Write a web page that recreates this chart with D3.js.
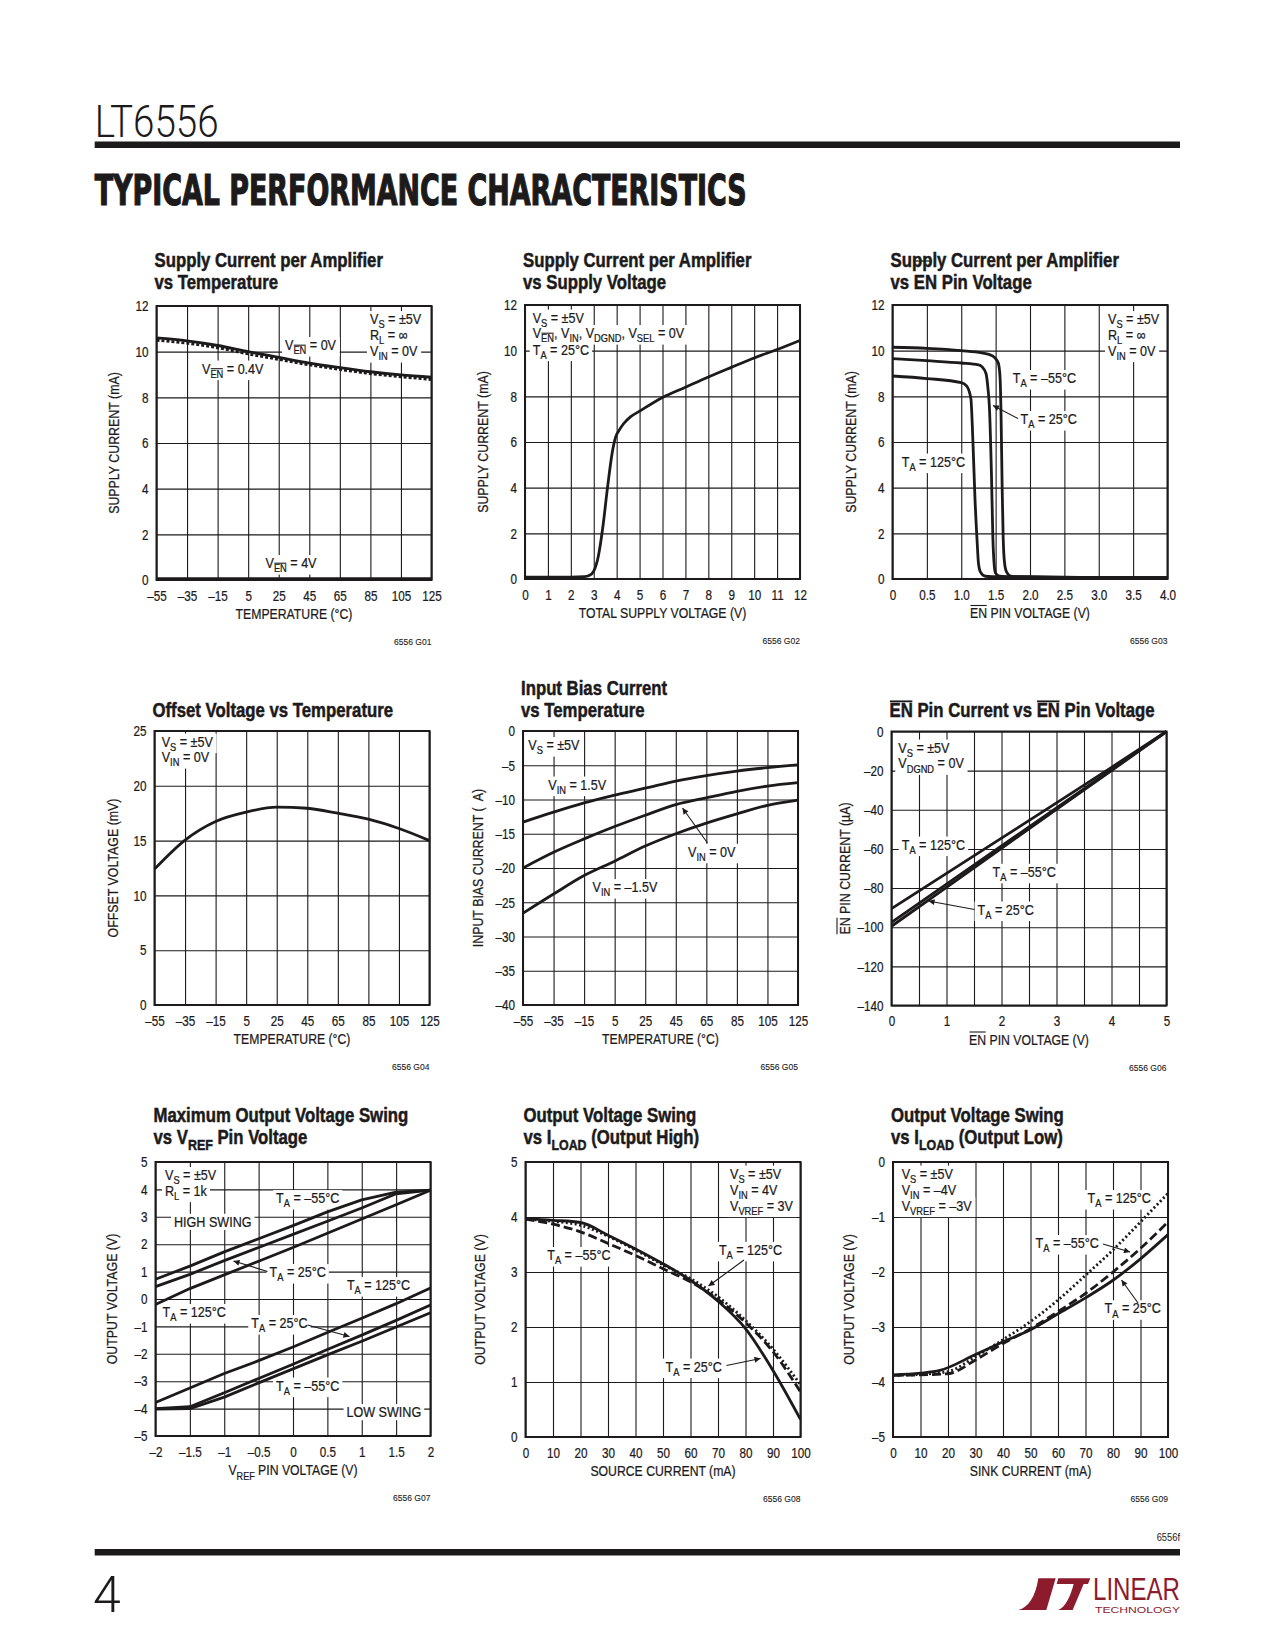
<!DOCTYPE html>
<html><head><meta charset="utf-8">
<script src="https://cdn.jsdelivr.net/npm/d3@7"></script>
<style>body{margin:0;background:#fff}svg{display:block}text{white-space:pre}
.p text{stroke:#1c1a1b;stroke-width:0.25px}</style>
</head><body>
<script>
// ---------------- DATA ----------------
const tempC = [-55, -35, -15, 5, 25, 45, 65, 85, 105, 125];
// G01 supply current vs temperature (mA)
const g01En0V  = [10.6, 10.47, 10.27, 10.0, 9.75, 9.5, 9.3, 9.12, 8.98, 8.88];
const g01En04V = [10.5, 10.37, 10.17, 9.9, 9.66, 9.42, 9.22, 9.04, 8.9, 8.78];
const g01En4V  = [0.05, 0.05, 0.05, 0.05, 0.05, 0.05, 0.05, 0.05, 0.05, 0.05];
// G02 supply current vs total supply voltage
const g02V = [0, 1, 2, 2.6, 2.8, 3.0, 3.2, 3.4, 3.6, 3.8, 3.95, 4.1, 4.3, 4.6, 5, 6, 7, 8, 9, 10, 11, 12];
const g02I = [0.08, 0.08, 0.08, 0.1, 0.15, 0.35, 1.0, 2.3, 4.0, 5.5, 6.2, 6.5, 6.8, 7.1, 7.35, 7.95, 8.4, 8.85, 9.27, 9.68, 10.05, 10.45];
// G03 supply current vs EN pin voltage
const g03VM55 = [0, 0.5, 1.0, 1.3, 1.45, 1.5, 1.54, 1.565, 1.58, 1.595, 1.61, 1.63, 1.66, 1.72, 1.85, 2.5, 3.0, 4.0];
const g03IM55 = [10.15, 10.1, 10.0, 9.9, 9.78, 9.65, 9.45, 8.8, 7.0, 4.0, 1.8, 0.7, 0.3, 0.13, 0.1, 0.08, 0.07, 0.06];
const g03V25 = [0, 0.5, 1.0, 1.25, 1.3, 1.36, 1.39, 1.41, 1.44, 1.46, 1.48, 1.5, 1.56, 1.7, 2.5, 4.0];
const g03I25 = [9.65, 9.56, 9.46, 9.38, 9.3, 9.0, 8.3, 7.5, 4.5, 1.8, 0.6, 0.25, 0.12, 0.09, 0.07, 0.06];
const g03V125 = [0, 0.5, 1.0, 1.08, 1.14, 1.17, 1.2, 1.23, 1.25, 1.28, 1.35, 1.45, 2.5, 4.0];
const g03I125 = [8.89, 8.78, 8.6, 8.45, 7.9, 6.0, 3.5, 1.7, 0.7, 0.3, 0.12, 0.1, 0.07, 0.06];
// G04 offset voltage vs temperature (mV)
const g04Vos = [12.4, 15.05, 16.75, 17.6, 18.05, 17.95, 17.5, 16.95, 16.1, 15.0];
// G05 input bias current vs temperature
const g05Vin15  = [-13.3, -11.85, -10.5, -9.35, -8.35, -7.3, -6.5, -5.85, -5.35, -4.95];
const g05Vin0   = [-20.0, -17.7, -15.75, -13.95, -12.3, -10.75, -9.75, -8.8, -8.05, -7.55];
const g05VinM15 = [-26.6, -23.8, -21.1, -19.0, -16.8, -15.0, -13.45, -12.1, -10.85, -10.1];
// G06 EN pin current vs EN pin voltage (uA)
const g06V = [0, 1, 2, 3, 4, 5];
const g06T125 = [-90.5, -72.5, -54.5, -36.5, -18.3, 0];
const g06TM55 = [-97.5, -78, -58.5, -39, -19.5, 0];
const g06T25  = [-99.5, -79.6, -59.7, -39.8, -20, 0];
// G07 max output swing vs VREF
const g07Vref = [-2, -1.5, -1, -0.5, 0, 0.5, 1, 1.5, 2];
const g07HiM55 = [0.72, 1.2, 1.72, 2.2, 2.68, 3.18, 3.62, 3.9, 3.97];
const g07Hi25  = [0.45, 0.9, 1.4, 1.88, 2.36, 2.84, 3.32, 3.84, 3.97];
const g07Hi125 = [-0.2, 0.38, 0.88, 1.38, 1.88, 2.4, 2.92, 3.44, 3.97];
const g07Lo125 = [-3.78, -3.25, -2.72, -2.25, -1.75, -1.22, -0.7, -0.17, 0.4];
const g07Lo25  = [-4.0, -3.93, -3.42, -2.9, -2.38, -1.84, -1.32, -0.78, -0.22];
const g07LoM55 = [-4.02, -4.0, -3.58, -3.06, -2.55, -2.04, -1.54, -1.02, -0.5];
// G08 output high vs source current
const loadmA = [0, 10, 20, 30, 40, 50, 60, 70, 80, 90, 100];
const g08T25  = [3.97, 3.94, 3.9, 3.67, 3.42, 3.15, 2.85, 2.47, 1.97, 1.21, 0.32];
const g08TM55 = [3.96, 3.87, 3.73, 3.52, 3.3, 3.06, 2.82, 2.5, 2.08, 1.55, 0.82];
const g08T125 = [3.96, 3.92, 3.85, 3.65, 3.4, 3.13, 2.88, 2.55, 2.12, 1.6, 0.95];
// G09 output low vs sink current
const g09X25 = [0, 10, 17, 30, 40, 50, 60, 70, 80, 90, 100];
const g09T25  = [-3.87, -3.84, -3.79, -3.5, -3.27, -3.05, -2.76, -2.47, -2.15, -1.76, -1.32];
const g09TM55 = [-3.88, -3.87, -3.85, -3.6, -3.3, -3.03, -2.72, -2.39, -2.0, -1.57, -1.09];
const g09T125 = [-3.88, -3.86, -3.81, -3.54, -3.23, -2.9, -2.51, -2.06, -1.6, -1.09, -0.57];

// tick values
const tempTicks = tempC;
const mA12Ticks = [0, 2, 4, 6, 8, 10, 12];
const v12Ticks = d3.range(0, 13, 1);
const en4Ticks = [0, 0.5, 1.0, 1.5, 2.0, 2.5, 3.0, 3.5, 4.0];
const vos25Ticks = [0, 5, 10, 15, 20, 25];
const ib40Ticks = [-40, -35, -30, -25, -20, -15, -10, -5, 0];
const en5Grid = [0, 0.5, 1, 1.5, 2, 2.5, 3, 3.5, 4, 4.5, 5];
const en5Labels = [0, 1, 2, 3, 4, 5];
const uA140Ticks = [-140, -120, -100, -80, -60, -40, -20, 0];
const vrefTicks = [-2, -1.5, -1, -0.5, 0, 0.5, 1, 1.5, 2];
const out5Ticks = [-5, -4, -3, -2, -1, 0, 1, 2, 3, 4, 5];
const loadTicks = loadmA;
const hi5Ticks = [0, 1, 2, 3, 4, 5];
const lo5Ticks = [-5, -4, -3, -2, -1, 0];

// ---------------- DRAWING ----------------
const W = 1275, H = 1650;
const INK = '#1c1a1b';
const FONT = "'Liberation Sans', Arial, sans-serif";
const CAP = 0.716;
const svg = d3.select('body').append('svg').attr('width', W).attr('height', H)
  .attr('font-family', FONT).attr('fill', INK);
svg.append('rect').attr('width', W).attr('height', H).attr('fill', '#fff');
const defs = svg.append('defs');
defs.append('marker').attr('id', 'arr').attr('viewBox', '0 0 10 10').attr('refX', 10).attr('refY', 5)
  .attr('markerWidth', 9).attr('markerHeight', 6).attr('markerUnits', 'userSpaceOnUse').attr('orient', 'auto')
  .append('path').attr('d', 'M0,0L10,5L0,10Z').attr('fill', INK);

const dash = s => s < 0 ? '–' + Math.abs(s) : String(s);

// text with _{sub}, ~{overline}, _{~overlined sub}; condensed horizontally by sx
function label(parent, str, x, y, fs, o = {}) {
  const sx = o.sx || 0.86;
  const g = parent.append('g').attr('transform', `translate(${x},${y})${o.rot ? ' rotate(-90)' : ''} scale(${sx},1)`);
  const t = g.append('text').attr('font-size', fs).attr('text-anchor', o.anchor || 'start')
    .attr('font-weight', o.bold ? 'bold' : null);
  if (o.sw != null) t.style('stroke-width', o.sw + 'px');
  const parts = str.split(/(_\{[^}]*\}|~\{[^}]*\})/).filter(s => s);
  let down = false, idx = 0;
  const overs = [], sh = fs * 0.3;
  parts.forEach(p => {
    let s = p, sub = false, over = false;
    if (p.startsWith('_{')) { s = p.slice(2, -1); sub = true; }
    else if (p.startsWith('~{')) { s = p.slice(2, -1); over = true; }
    if (s.startsWith('~')) { s = s.slice(1); over = true; }
    const ts = t.append('tspan').text(s);
    if (sub) { ts.attr('font-size', fs * 0.74); if (!down) ts.attr('dy', sh); down = true; }
    else if (down) { ts.attr('dy', -sh); down = false; }
    if (over) overs.push([idx, idx + s.length - 1, sub ? fs * 0.74 : fs]);
    idx += s.length;
  });
  overs.forEach(([a, b, f]) => {
    const p0 = t.node().getStartPositionOfChar(a), p1 = t.node().getEndPositionOfChar(b);
    const yy = p0.y - f * CAP - 1.4;
    g.append('line').attr('x1', p0.x + 0.5).attr('x2', p1.x - 0.5).attr('y1', yy).attr('y2', yy)
      .attr('stroke', INK).attr('stroke-width', o.bold ? 1.8 : 1.1);
  });
  const bb = t.node().getBBox();
  return { g, box: { x: x + bb.x * sx, y: y + bb.y, w: bb.width * sx, h: bb.height } };
}

function squeeze(axisG, sx) {
  axisG.selectAll('text').each(function () {
    const t = d3.select(this);
    const x = +t.attr('x') || 0, y = +t.attr('y') || 0;
    t.attr('x', 0).attr('y', 0).attr('transform', `translate(${x},${y}) scale(${sx},1)`);
  });
}

function panel(c) {
  const w = c.w || 275, h = c.h || 274;
  const x = d3.scaleLinear().domain(c.xd).range([c.left, c.left + w]);
  const y = d3.scaleLinear().domain(c.yd).range([c.top + h, c.top]);
  const g = svg.append('g').attr('class', 'p');
  const gridG = g.append('g'), bgG = g.append('g'), lineG = g.append('g'), frameG = g.append('g'), txtG = g.append('g');

  const gx = gridG.append('g').attr('transform', `translate(0,${c.top + h})`)
    .call(d3.axisBottom(x).tickValues(c.xg).tickSize(-h).tickFormat(''));
  const gy = gridG.append('g').attr('transform', `translate(${c.left},0)`)
    .call(d3.axisLeft(y).tickValues(c.yg).tickSize(-w).tickFormat(''));
  [gx, gy].forEach(a => { a.select('.domain').remove(); a.selectAll('line').attr('stroke', INK).attr('stroke-width', 1.1); });

  const xa = txtG.append('g').attr('transform', `translate(0,${c.top + h})`)
    .call(d3.axisBottom(x).tickValues(c.xl || c.xg).tickSize(0).tickPadding(10.3).tickFormat(c.xf || dash));
  const ya = txtG.append('g').attr('transform', `translate(${c.left},0)`)
    .call(d3.axisLeft(y).tickValues(c.yl || c.yg).tickSize(0).tickPadding(8).tickFormat(c.yf || dash));
  [xa, ya].forEach(a => {
    a.select('.domain').remove();
    a.attr('font-family', FONT).attr('font-size', 14.8).attr('color', INK);
    squeeze(a, 0.79);
  });

  c.series.forEach(s => {
    lineG.append('path').datum(d3.zip(s.x, s.y))
      .attr('d', d3.line().x(d => x(d[0])).y(d => y(d[1])).curve(s.curve || d3.curveMonotoneX))
      .attr('fill', 'none').attr('stroke', INK).attr('stroke-width', s.sw || 2.8)
      .attr('stroke-dasharray', s.dash || null).attr('stroke-linejoin', 'round');
  });
  frameG.append('rect').attr('x', c.left).attr('y', c.top).attr('width', w).attr('height', h)
    .attr('fill', 'none').attr('stroke', INK).attr('stroke-width', 2);

  (c.notes || []).forEach(a => {
    const L = label(txtG, a[0], c.left + a[1], c.top + a[2], 14.8, { sx: 0.85 });
    const b = L.box;
    bgG.append('rect').attr('x', b.x - 3).attr('y', b.y).attr('width', b.w + 6).attr('height', b.h).attr('fill', '#fff');
  });
  (c.arrows || []).forEach(a => {
    txtG.append('line').attr('x1', c.left + a[0]).attr('y1', c.top + a[1]).attr('x2', c.left + a[2]).attr('y2', c.top + a[3])
      .attr('stroke', INK).attr('stroke-width', 1.1).attr('marker-end', 'url(#arr)');
  });
  c.title.forEach((s, i) => label(txtG, s, c.left - 2, c.tb[i], 19.5, { bold: true, sx: 0.86, sw: 0.5 }));
  label(txtG, c.xt, c.left + w / 2, c.top + h + 39, 15.5, { anchor: 'middle', sx: 0.79 });
  label(txtG, c.yt, c.left - c.yo, c.top + h / 2, 15.5, { anchor: 'middle', sx: 0.8, rot: true });
  label(txtG, c.fig, c.left + w, c.top + h + 65, 9.5, { anchor: 'end', sx: 0.9, sw: 0.1 });
  return { x, y, txtG };
}

// Row 1
panel({ left: 156.5, top: 306, xd: [-55, 125], yd: [0, 12], xg: tempTicks, yg: mA12Ticks,
  title: ['Supply Current per Amplifier', 'vs Temperature'], tb: [266.7, 289.3],
  xt: 'TEMPERATURE (°C)', yt: 'SUPPLY CURRENT (mA)', yo: 38, fig: '6556 G01',
  series: [{ x: tempC, y: g01En0V }, { x: tempC, y: g01En04V, dash: '3,2' }, { x: tempC, y: g01En4V, sw: 3 }],
  notes: [['V_{S} = ±5V', 213.5, 18], ['R_{L} = ∞', 213.5, 33.5], ['V_{IN} = 0V', 213.5, 50],
    ['V_{~EN} = 0V', 128.5, 44], ['V_{~EN} = 0.4V', 45.5, 67.5], ['V_{~EN} = 4V', 109, 262]] });

panel({ left: 525, top: 305, xd: [0, 12], yd: [0, 12], xg: v12Ticks, yg: mA12Ticks,
  title: ['Supply Current per Amplifier', 'vs Supply Voltage'], tb: [266.7, 289.3],
  xt: 'TOTAL SUPPLY VOLTAGE (V)', yt: 'SUPPLY CURRENT (mA)', yo: 37, fig: '6556 G02',
  series: [{ x: g02V, y: g02I }],
  notes: [['V_{S} = ±5V', 7.7, 17.5], ['V_{~EN}, V_{IN}, V_{DGND}, V_{SEL} = 0V', 7.7, 33], ['T_{A} = 25°C', 7.7, 49.5]] });

const p3 = panel({ left: 892.5, top: 305, xd: [0, 4], yd: [0, 12], xg: en4Ticks, yg: mA12Ticks,
  xf: d => d === 0 ? '0' : d.toFixed(1),
  title: ['Supply Current per Amplifier', 'vs EN Pin Voltage'], tb: [266.7, 289.3],
  xt: '~{EN} PIN VOLTAGE (V)', yt: 'SUPPLY CURRENT (mA)', yo: 36.5, fig: '6556 G03',
  series: [{ x: g03VM55, y: g03IM55 }, { x: g03V25, y: g03I25 }, { x: g03V125, y: g03I125 }],
  notes: [['V_{S} = ±5V', 215.5, 19], ['R_{L} = ∞', 215.5, 34.5], ['V_{IN} = 0V', 215.5, 50.5],
    ['T_{A} = –55°C', 120.2, 78], ['T_{A} = 25°C', 128, 119], ['T_{A} = 125°C', 9.2, 161.5]],
  arrows: [[125.5, 113.5, 100.5, 100.5]] });
// stray overline seen in the reference title
p3.txtG.append('line').attr('x1', 913).attr('x2', 932).attr('y1', 261).attr('y2', 261).attr('stroke', INK).attr('stroke-width', 1.2);

// Row 2
panel({ left: 154.5, top: 731, xd: [-55, 125], yd: [0, 25], xg: tempTicks, yg: vos25Ticks,
  title: ['Offset Voltage vs Temperature'], tb: [716.7],
  xt: 'TEMPERATURE (°C)', yt: 'OFFSET VOLTAGE (mV)', yo: 37, fig: '6556 G04',
  series: [{ x: tempC, y: g04Vos }],
  notes: [['V_{S} = ±5V', 7.2, 15.5], ['V_{IN} = 0V', 7.2, 31]] });

panel({ left: 523, top: 731, xd: [-55, 125], yd: [-40, 0], xg: tempTicks, yg: ib40Ticks,
  title: ['Input Bias Current', 'vs Temperature'], tb: [695, 716.7],
  xt: 'TEMPERATURE (°C)', yt: 'INPUT BIAS CURRENT (  A)', yo: 40, fig: '6556 G05',
  series: [{ x: tempC, y: g05Vin15 }, { x: tempC, y: g05Vin0 }, { x: tempC, y: g05VinM15 }],
  notes: [['V_{S} = ±5V', 5.3, 19], ['V_{IN} = 1.5V', 25.3, 58.5], ['V_{IN} = 0V', 165, 125.7], ['V_{IN} = –1.5V', 69.5, 161]],
  arrows: [[184.5, 112, 159.5, 77]] });

panel({ left: 891.5, top: 731.5, xd: [0, 5], yd: [-140, 0], xg: en5Grid, xl: en5Labels, yg: uA140Ticks,
  title: ['~{EN} Pin Current vs ~{EN} Pin Voltage'], tb: [716.7],
  xt: '~{EN} PIN VOLTAGE (V)', yt: '~{EN} PIN CURRENT (µA)', yo: 42, fig: '6556 G06',
  series: [{ x: g06V, y: g06T125, curve: d3.curveLinear }, { x: g06V, y: g06TM55, curve: d3.curveLinear }, { x: g06V, y: g06T25, curve: d3.curveLinear }],
  notes: [['V_{S} = ±5V', 6.8, 21], ['V_{DGND} = 0V', 6.8, 36.8], ['T_{A} = 125°C', 10.2, 118], ['T_{A} = –55°C', 101, 145.2], ['T_{A} = 25°C', 86, 183]],
  arrows: [[83, 178, 37, 169.5]] });

// Row 3
panel({ left: 155.5, top: 1162, xd: [-2, 2], yd: [-5, 5], xg: vrefTicks, yg: out5Ticks,
  title: ['Maximum Output Voltage Swing', 'vs V_{REF} Pin Voltage'], tb: [1121.7, 1144.3],
  xt: 'V_{REF} PIN VOLTAGE (V)', yt: 'OUTPUT VOLTAGE (V)', yo: 39, fig: '6556 G07',
  series: [g07HiM55, g07Hi25, g07Hi125, g07Lo125, g07Lo25, g07LoM55].map(v => ({ x: g07Vref, y: v, curve: d3.curveLinear })),
  notes: [['V_{S} = ±5V', 9.5, 18], ['R_{L} = 1k', 9.5, 33.5], ['T_{A} = –55°C', 120.5, 41], ['HIGH SWING', 18.5, 64.7],
    ['T_{A} = 25°C', 114, 115], ['T_{A} = 125°C', 191.4, 128], ['T_{A} = 125°C', 7, 155], ['T_{A} = 25°C', 95.8, 166],
    ['T_{A} = –55°C', 120.5, 228.5], ['LOW SWING', 191, 255]],
  arrows: [[112, 109.5, 78, 99], [152, 163, 194, 174.5]] });

panel({ left: 525.5, top: 1162, h: 275, xd: [0, 100], yd: [0, 5], xg: loadTicks, yg: hi5Ticks,
  title: ['Output Voltage Swing', 'vs I_{LOAD} (Output High)'], tb: [1121.7, 1144.3],
  xt: 'SOURCE CURRENT (mA)', yt: 'OUTPUT VOLTAGE (V)', yo: 40.5, fig: '6556 G08',
  series: [{ x: loadmA, y: g08T25 }, { x: loadmA, y: g08TM55, dash: '9,4' }, { x: loadmA, y: g08T125, dash: '2,2.5' }],
  notes: [['V_{S} = ±5V', 204.5, 16.5], ['V_{IN} = 4V', 204.5, 32.5], ['V_{VREF} = 3V', 204.5, 48.5],
    ['T_{A} = –55°C', 21.7, 98], ['T_{A} = 125°C', 193.4, 92.8], ['T_{A} = 25°C', 140, 209.5]],
  arrows: [[218.5, 98, 183, 124], [201, 203.5, 235, 196.5]] });

panel({ left: 893, top: 1162, h: 275, xd: [0, 100], yd: [-5, 0], xg: loadTicks, yg: lo5Ticks,
  title: ['Output Voltage Swing', 'vs I_{LOAD} (Output Low)'], tb: [1121.7, 1144.3],
  xt: 'SINK CURRENT (mA)', yt: 'OUTPUT VOLTAGE (V)', yo: 39.5, fig: '6556 G09',
  series: [{ x: g09X25, y: g09T25 }, { x: loadmA, y: g09TM55, dash: '9,4' }, { x: loadmA, y: g09T125, dash: '2,2.5' }],
  notes: [['V_{S} = ±5V', 8.7, 16.5], ['V_{IN} = –4V', 8.7, 32.5], ['V_{VREF} = –3V', 8.7, 48.5],
    ['T_{A} = 125°C', 194.5, 41], ['T_{A} = –55°C', 142.5, 86], ['T_{A} = 25°C', 211.5, 151.2]],
  arrows: [[210, 82, 237, 90], [245, 141, 228.5, 118]] });

// ---------------- PAGE FURNITURE ----------------
svg.append('text').attr('x', 94.7).attr('y', 137).attr('font-family', 'Roboto').attr('font-weight', 300)
  .attr('font-size', 44).attr('textLength', 124).attr('lengthAdjust', 'spacingAndGlyphs').text('LT6556');
svg.append('rect').attr('x', 94.7).attr('y', 141.5).attr('width', 1085.3).attr('height', 6.5).attr('fill', INK);
svg.append('text').attr('x', 94.7).attr('y', 205).attr('font-family', "'DejaVu Sans Condensed','DejaVu Sans',sans-serif")
  .attr('font-size', 42).attr('font-weight', 'bold')
  .attr('stroke', INK).attr('stroke-width', 1.2)
  .attr('textLength', 652).attr('lengthAdjust', 'spacingAndGlyphs').text('TYPICAL PERFORMANCE CHARACTERISTICS');

label(svg, '6556f', 1180, 1541, 11, { anchor: 'end', sx: 0.85 });
svg.append('rect').attr('x', 94.7).attr('y', 1549).attr('width', 1085.3).attr('height', 6.5).attr('fill', INK);
svg.append('text').attr('x', 93).attr('y', 1612).attr('font-family', 'Roboto').attr('font-weight', 300)
  .attr('font-size', 50).text('4');

const RED = '#8b1b2d';
const logo = svg.append('g').attr('transform', 'translate(1005,1565) scale(0.3333)').attr('fill', RED);
logo.append('path').attr('d', 'M100,40 L152,40 L124,135 L40,135 C70,128 92,95 100,40 Z');
logo.append('path').attr('d', 'M160,40 L256,40 L249,57 L236,57 L203,135 L160,135 C182,126 196,95 206,57 L155,57 Z');
svg.append('text').attr('x', 1093).attr('y', 1600).attr('font-size', 31).attr('fill', RED)
  .attr('textLength', 87).attr('lengthAdjust', 'spacingAndGlyphs').text('LINEAR');
svg.append('text').attr('x', 1095).attr('y', 1613).attr('font-size', 9.5).attr('fill', RED)
  .attr('textLength', 85).attr('lengthAdjust', 'spacingAndGlyphs').text('TECHNOLOGY');
</script>
</body></html>
